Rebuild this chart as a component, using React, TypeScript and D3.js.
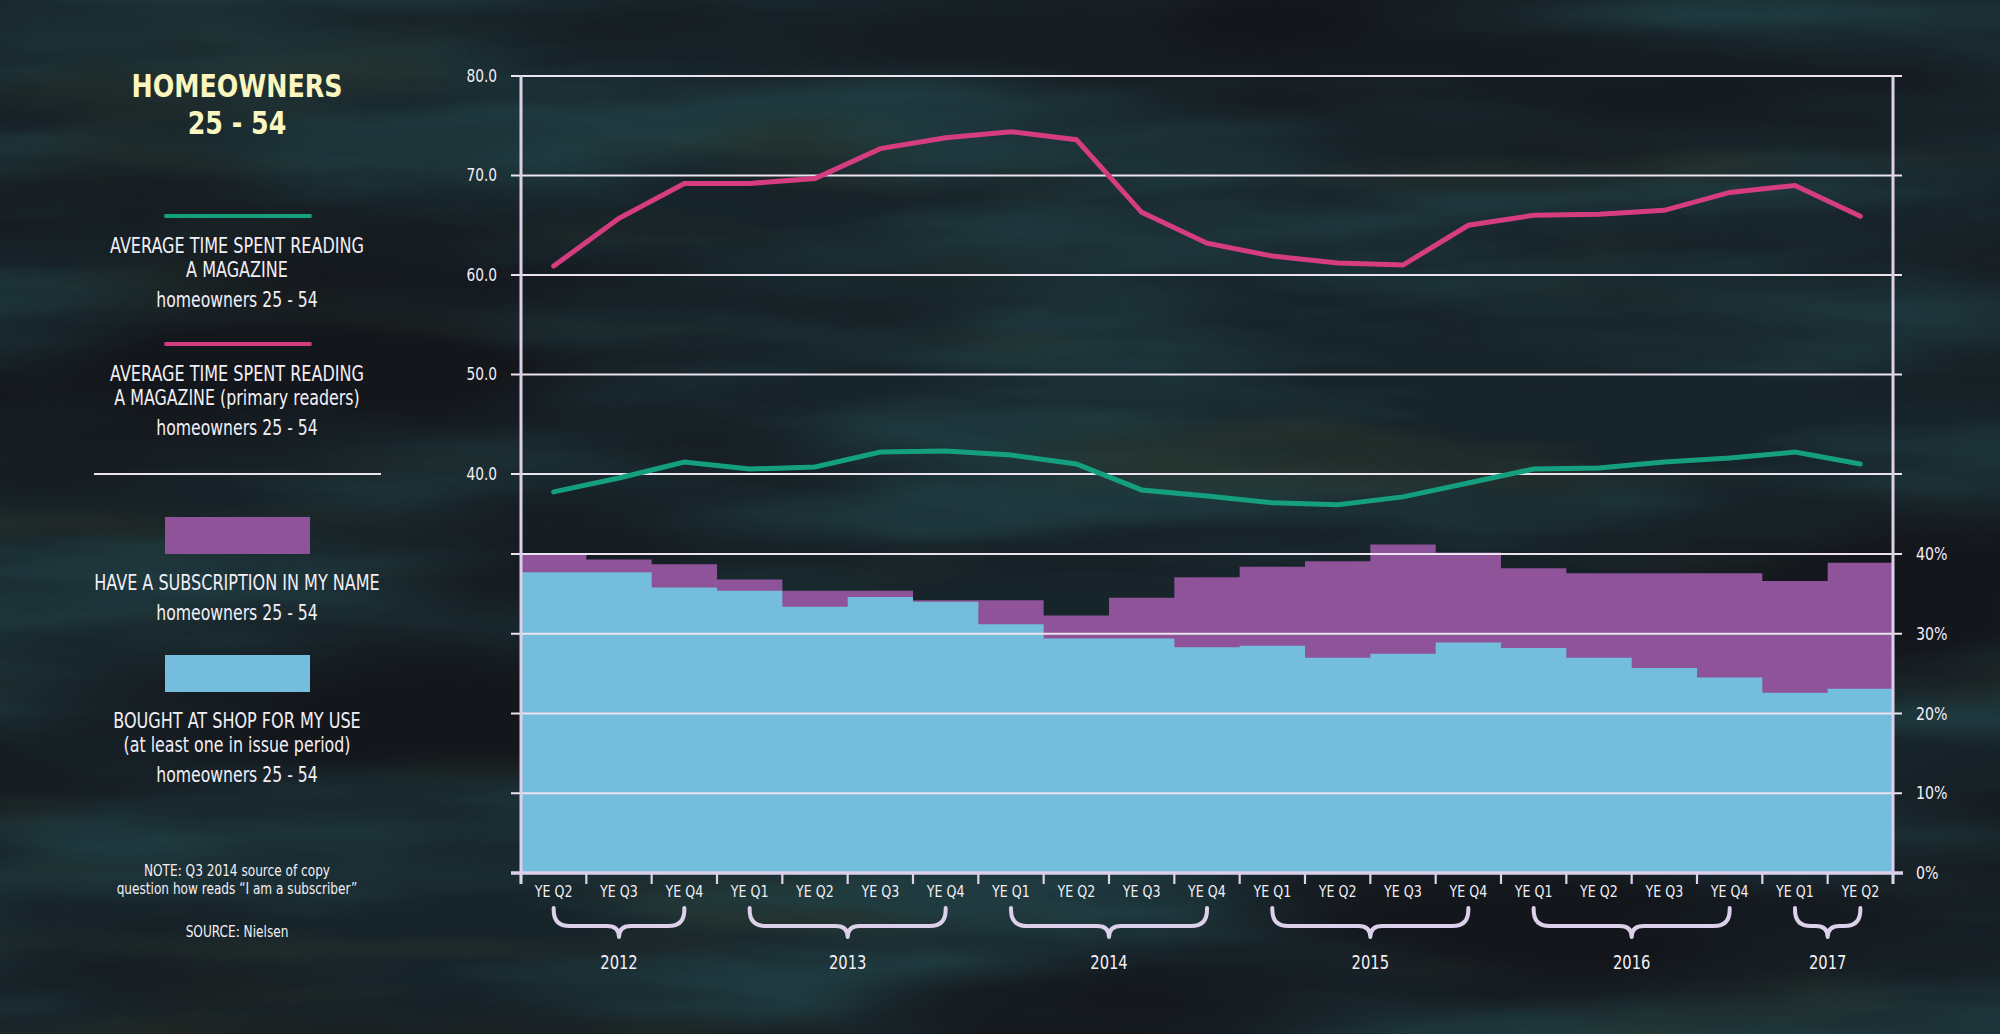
import React from 'react';
import * as d3 from 'd3';

// ---------- DATA ----------
const quarters = [
  'YE Q2', 'YE Q3', 'YE Q4',
  'YE Q1', 'YE Q2', 'YE Q3', 'YE Q4',
  'YE Q1', 'YE Q2', 'YE Q3', 'YE Q4',
  'YE Q1', 'YE Q2', 'YE Q3', 'YE Q4',
  'YE Q1', 'YE Q2', 'YE Q3', 'YE Q4',
  'YE Q1', 'YE Q2',
];
const yearLabels = ['2012', '2013', '2014', '2015', '2016', '2017'];
const yearCounts = [3, 4, 4, 4, 4, 2];

// Average time spent reading a magazine (minutes), homeowners 25-54
const avgTime = [38.2, 39.6, 41.2, 40.5, 40.7, 42.2, 42.3, 41.9, 41.0, 38.4, 37.8, 37.1, 36.9, 37.7, 39.1, 40.5, 40.6, 41.2, 41.6, 42.2, 41.0];
// Average time spent reading a magazine (primary readers)
const avgTimePrimary = [60.9, 65.7, 69.2, 69.2, 69.7, 72.7, 73.8, 74.4, 73.6, 66.3, 63.2, 61.9, 61.2, 61.0, 65.0, 66.0, 66.1, 66.5, 68.3, 69.0, 65.9];
// Have a subscription in my name (%)
const subscription = [39.9, 39.3, 38.7, 36.8, 35.4, 35.4, 34.2, 34.2, 32.3, 34.5, 37.1, 38.4, 39.1, 41.2, 40.2, 38.2, 37.6, 37.6, 37.6, 36.6, 38.9];
// Bought at shop for my use (%)
const boughtAtShop = [37.7, 37.7, 35.8, 35.4, 33.4, 34.6, 34.0, 31.2, 29.4, 29.4, 28.3, 28.5, 27.0, 27.5, 28.9, 28.2, 27.0, 25.7, 24.5, 22.6, 23.1];

const lineTicks = [40, 50, 60, 70, 80];
const barTicks = [0, 10, 20, 30, 40];

// ---------- STYLE ----------
const W = 2000;
const H = 1034;
const FONT = "'DejaVu Sans Condensed', 'Liberation Sans Narrow', 'Roboto Condensed', Roboto, sans-serif";
const AXIS = '#ddd0ea';
const GRID = '#ebe4ee';
const TEXT = '#f3eff6';
const PINK = '#d63d80';
const GREEN = '#14a07f';
const PURPLE = '#8e5399';
const BLUE = '#75bddc';
const TITLE = '#fbf5c0';

const plotL = 521;
const plotR = 1893;
const lineTop = 76;
const line40 = 474;
const barTop = 554;
const barBottom = 873;

type TProps = {
  x: number; y: number; size: number; sx?: number; anchor?: 'start' | 'middle' | 'end';
  fill?: string; weight?: string; dy?: string; children: React.ReactNode;
};
const T = ({ x, y, size, sx = 1, anchor = 'middle', fill = TEXT, weight = 'normal', dy, children }: TProps) => (
  <text transform={`translate(${x},${y}) scale(${sx},1)`} x={0} y={0} dy={dy} textAnchor={anchor}
    fontSize={size} fontWeight={weight} fill={fill} fontFamily={FONT}>{children}</text>
);

export default function App() {
  const idx = d3.range(quarters.length);
  const x = d3.scaleBand<number>().domain(idx).range([plotL, plotR]).paddingInner(0).paddingOuter(0);
  const yLine = d3.scaleLinear().domain([40, 80]).range([line40, lineTop]);
  const yBar = d3.scaleLinear().domain([0, 40]).range([barBottom, barTop]);
  const cx = (i: number) => (x(i) as number) + x.bandwidth() / 2;

  const lineGen = d3.line<number>().x((_, i) => cx(i)).y((d) => yLine(d));

  const barPath = (vals: number[]) => {
    const p = d3.path();
    vals.forEach((v, i) => {
      p.rect(x(i) as number, yBar(v), x.bandwidth(), barBottom - yBar(v));
    });
    return p.toString();
  };

  // year brace groups
  let start = 0;
  const groups = yearLabels.map((label, k) => {
    const s = start;
    const e = start + yearCounts[k] - 1;
    start += yearCounts[k];
    return { label, x1: cx(s), x2: cx(e) };
  });

  const bracePath = (x1: number, x2: number) => {
    const top = 908;
    const mid = 926;
    const tip = 937;
    const r = 16;
    const c = (x1 + x2) / 2;
    const p = d3.path();
    p.moveTo(x1, top);
    p.lineTo(x1, mid - r);
    p.quadraticCurveTo(x1, mid, x1 + r, mid);
    p.lineTo(c - 12, mid);
    p.quadraticCurveTo(c, mid, c, tip);
    p.quadraticCurveTo(c, mid, c + 12, mid);
    p.lineTo(x2 - r, mid);
    p.quadraticCurveTo(x2, mid, x2, mid - r);
    p.lineTo(x2, top);
    return p.toString();
  };

  const legendCx = 237;
  const L = (y: number, t: string, size = 21, sx = 0.85) => (
    <T x={legendCx} y={y} size={size} sx={sx}>{t}</T>
  );

  return (
    <svg width={W} height={H} style={{ position: 'absolute', left: 0, top: 0 }} xmlns="http://www.w3.org/2000/svg">
      <defs>
        <filter id="tex1" x="0" y="0" width={W} height={H} filterUnits="userSpaceOnUse" colorInterpolationFilters="sRGB">
          <feTurbulence type="fractalNoise" baseFrequency="0.0016 0.011" numOctaves="4" seed="11" />
          <feColorMatrix type="matrix" values="0 0 0 0 0.12  0 0 0 0 0.23  0 0 0 0 0.25  2.8 0 0 0 -1.0" />
        </filter>
        <filter id="tex2" x="0" y="0" width={W} height={H} filterUnits="userSpaceOnUse" colorInterpolationFilters="sRGB">
          <feTurbulence type="fractalNoise" baseFrequency="0.0012 0.006" numOctaves="3" seed="4" />
          <feColorMatrix type="matrix" values="0 0 0 0 0.075  0 0 0 0 0.085  0 0 0 0 0.105  0 3.0 0 0 -1.3" />
        </filter>
        <filter id="tex3" x="0" y="0" width={W} height={H} filterUnits="userSpaceOnUse" colorInterpolationFilters="sRGB">
          <feTurbulence type="fractalNoise" baseFrequency="0.002 0.014" numOctaves="3" seed="23" />
          <feColorMatrix type="matrix" values="0 0 0 0 0.17  0 0 0 0 0.20  0 0 0 0 0.16  0 0 2.4 0 -1.3" />
        </filter>
      </defs>

      {/* background */}
      <rect x={0} y={0} width={W} height={H} fill="#17242a" />
      <rect x={0} y={0} width={W} height={H} filter="url(#tex1)" />
      <rect x={0} y={0} width={W} height={H} filter="url(#tex3)" />
      <rect x={0} y={0} width={W} height={H} filter="url(#tex2)" />

      {/* bars: subscription (behind) and bought at shop (front) */}
      <path d={barPath(subscription)} fill={PURPLE} />
      <path d={barPath(boughtAtShop)} fill={BLUE} />

      {/* gridlines */}
      {lineTicks.map((t) => (
        <line key={'gl' + t} x1={plotL - 10} x2={plotR + 9} y1={yLine(t)} y2={yLine(t)} stroke={GRID} strokeWidth={2.2} />
      ))}
      {barTicks.filter((t) => t > 0).map((t) => (
        <line key={'gb' + t} x1={plotL - 10} x2={plotR + 9} y1={yBar(t)} y2={yBar(t)} stroke={GRID} strokeWidth={2.2} />
      ))}

      {/* axes */}
      <line x1={plotL} x2={plotL} y1={lineTop - 1} y2={barBottom + 11} stroke={AXIS} strokeWidth={3} />
      <line x1={plotR} x2={plotR} y1={lineTop - 1} y2={barBottom + 11} stroke={AXIS} strokeWidth={3} />
      <line x1={plotL - 10} x2={plotR + 10} y1={barBottom} y2={barBottom} stroke={AXIS} strokeWidth={3.5} />
      {d3.range(quarters.length + 1).map((i) => {
        const xx = i < quarters.length ? (x(i) as number) : plotR;
        return <line key={'xt' + i} x1={xx} x2={xx} y1={barBottom} y2={barBottom + 11} stroke={AXIS} strokeWidth={2.2} />;
      })}

      {/* left axis labels */}
      {lineTicks.map((t) => (
        <T key={'ll' + t} x={497} y={yLine(t)} dy="0.35em" anchor="end" size={17} sx={0.9}>{t.toFixed(1)}</T>
      ))}
      {/* right axis labels */}
      {barTicks.map((t) => (
        <T key={'rl' + t} x={1916} y={yBar(t)} dy="0.35em" anchor="start" size={17.5} sx={0.9}>{t + '%'}</T>
      ))}

      {/* lines */}
      <path d={lineGen(avgTimePrimary) as string} fill="none" stroke={PINK} strokeWidth={5} strokeLinejoin="miter" strokeLinecap="round" />
      <path d={lineGen(avgTime) as string} fill="none" stroke={GREEN} strokeWidth={5} strokeLinejoin="miter" strokeLinecap="round" />

      {/* x labels */}
      {quarters.map((q, i) => (
        <T key={'q' + i} x={cx(i)} y={897} size={16} sx={0.88}>{q}</T>
      ))}
      {groups.map((g) => (
        <g key={g.label}>
          <path d={bracePath(g.x1, g.x2)} fill="none" stroke={AXIS} strokeWidth={4} strokeLinecap="round" strokeLinejoin="round" />
          <T x={(g.x1 + g.x2) / 2} y={969} size={20} sx={0.82}>{g.label}</T>
        </g>
      ))}

      {/* legend / title */}
      <T x={legendCx} y={97} size={32} sx={0.88} weight="bold" fill={TITLE}>HOMEOWNERS</T>
      <T x={legendCx} y={134} size={32} sx={0.88} weight="bold" fill={TITLE}>25 - 54</T>

      <line x1={166} x2={310} y1={216} y2={216} stroke={GREEN} strokeWidth={4} strokeLinecap="round" />
      {L(253, 'AVERAGE TIME SPENT READING')}
      {L(277, 'A MAGAZINE')}
      {L(307, 'homeowners 25 - 54', 21, 0.83)}

      <line x1={166} x2={310} y1={344} y2={344} stroke={PINK} strokeWidth={4} strokeLinecap="round" />
      {L(381, 'AVERAGE TIME SPENT READING')}
      {L(405, 'A MAGAZINE (primary readers)', 21, 0.84)}
      {L(435, 'homeowners 25 - 54', 21, 0.83)}

      <line x1={94} x2={381} y1={474} y2={474} stroke={GRID} strokeWidth={2} />

      <rect x={165} y={517} width={145} height={37} fill={PURPLE} />
      {L(590, 'HAVE A SUBSCRIPTION IN MY NAME')}
      {L(620, 'homeowners 25 - 54', 21, 0.83)}

      <rect x={165} y={655} width={145} height={37} fill={BLUE} />
      {L(728, 'BOUGHT AT SHOP FOR MY USE')}
      {L(752, '(at least one in issue period)', 21, 0.84)}
      {L(782, 'homeowners 25 - 54', 21, 0.83)}

      {L(876, 'NOTE: Q3 2014 source of copy', 15, 0.9)}
      {L(894, 'question how reads \u201CI am a subscriber\u201D', 15, 0.9)}
      {L(937, 'SOURCE: Nielsen', 15, 0.9)}
    </svg>
  );
}
